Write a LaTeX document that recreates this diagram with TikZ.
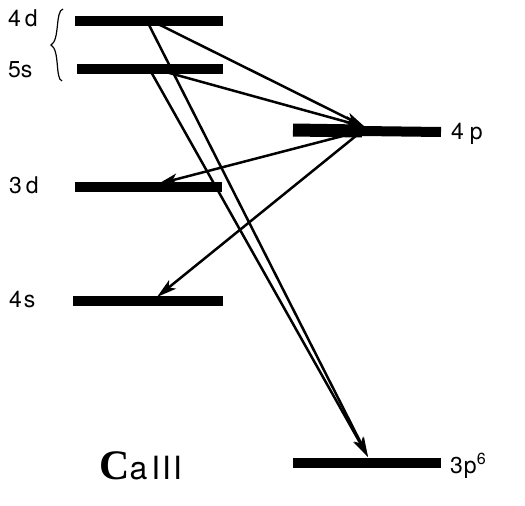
\documentclass[tikz,border=0pt]{standalone}
\usepackage{fontspec}
\setmainfont{TeX Gyre Heros}
\newfontfamily\bigserif{Liberation Serif}
\usetikzlibrary{arrows.meta}
\begin{document}
\begin{tikzpicture}[x=1pt,y=-1pt,
  level/.style={line width=10pt},
  trans/.style={line width=2.5pt,-{Stealth[length=20pt,width=11pt,inset=5pt]}},
  lbl/.style={anchor=west,inner sep=0pt,font=\fontsize{23}{23}\selectfont}]
\useasboundingbox (0,0) rectangle (525,506);
% level end points
\coordinate (d4L) at (75,21);  \coordinate (d4R) at (223,21);
\coordinate (s5L) at (77,69);  \coordinate (s5R) at (223,69);
\coordinate (p4L) at (293,130); \coordinate (p4M) at (362,131); \coordinate (p4R) at (441,132);
\coordinate (d3L) at (75,187); \coordinate (d3R) at (222,187);
\coordinate (s4L) at (73,301); \coordinate (s4R) at (223,301);
\coordinate (p3L) at (293,463); \coordinate (p3R) at (441,463);
% bars
\draw[level] (d4L) -- (d4R);
\draw[level] (s5L) -- (s5R);
\draw[line width=13pt] (p4L) -- (p4M);
\draw[level] (p4M) -- (p4R);
\draw[level] (d3L) -- (d3R);
\draw[level] (s4L) -- (s4R);
\draw[level] (p3L) -- (p3R);
% transition points
\coordinate (d4a) at (152,21);
\coordinate (d4b) at (147,21);
\coordinate (s5a) at (155,69);
\coordinate (s5b) at (150,70);
\coordinate (p4in) at (365,127);
\coordinate (p4out) at (362,131);
\coordinate (d3t) at (158,184);
\coordinate (s4t) at (157,297);
\coordinate (p3t) at (368,457);
% arrows
\draw[trans] (d4a) -- (p4in);
\draw[trans] (s5a) -- (p4in);
\draw[trans] (p4out) -- (d3t);
\draw[trans] (p4out) -- (s4t);
\draw[trans] (d4b) -- (p3t);
\draw[trans] (s5b) -- (p3t);
% brace
\coordinate (brT) at (63,9);
\coordinate (brM) at (51,45);
\coordinate (brB) at (62,81);
\draw[line width=1.2pt] (brT) .. controls (55,11) and (60,40) .. (brM)
  .. controls (60,50) and (55,79) .. (brB);
% labels
\node[lbl] (l4d) at (8,18) {4\hspace{4pt}d};
\node[lbl] (l5s) at (8,70) {5s};
\node[lbl] (l3d) at (9,185) {3\hspace{4pt}d};
\node[lbl] (l4s) at (9,300) {4\hspace{2pt}s};
\node[lbl] (l4p) at (451,134) {4\hspace{6pt}p};
\node[lbl] (l3p) at (450,466) {3\hspace{1pt}p$^{\mathrm{6}}$};
\node[anchor=west,inner sep=0pt] (ca) at (99,466)
  {{\bigserif\bfseries\fontsize{42}{42}\selectfont C}{\fontsize{32}{32}\selectfont a\hspace{4pt}I\kern2ptI\kern2ptI}};
\end{tikzpicture}
\end{document}
